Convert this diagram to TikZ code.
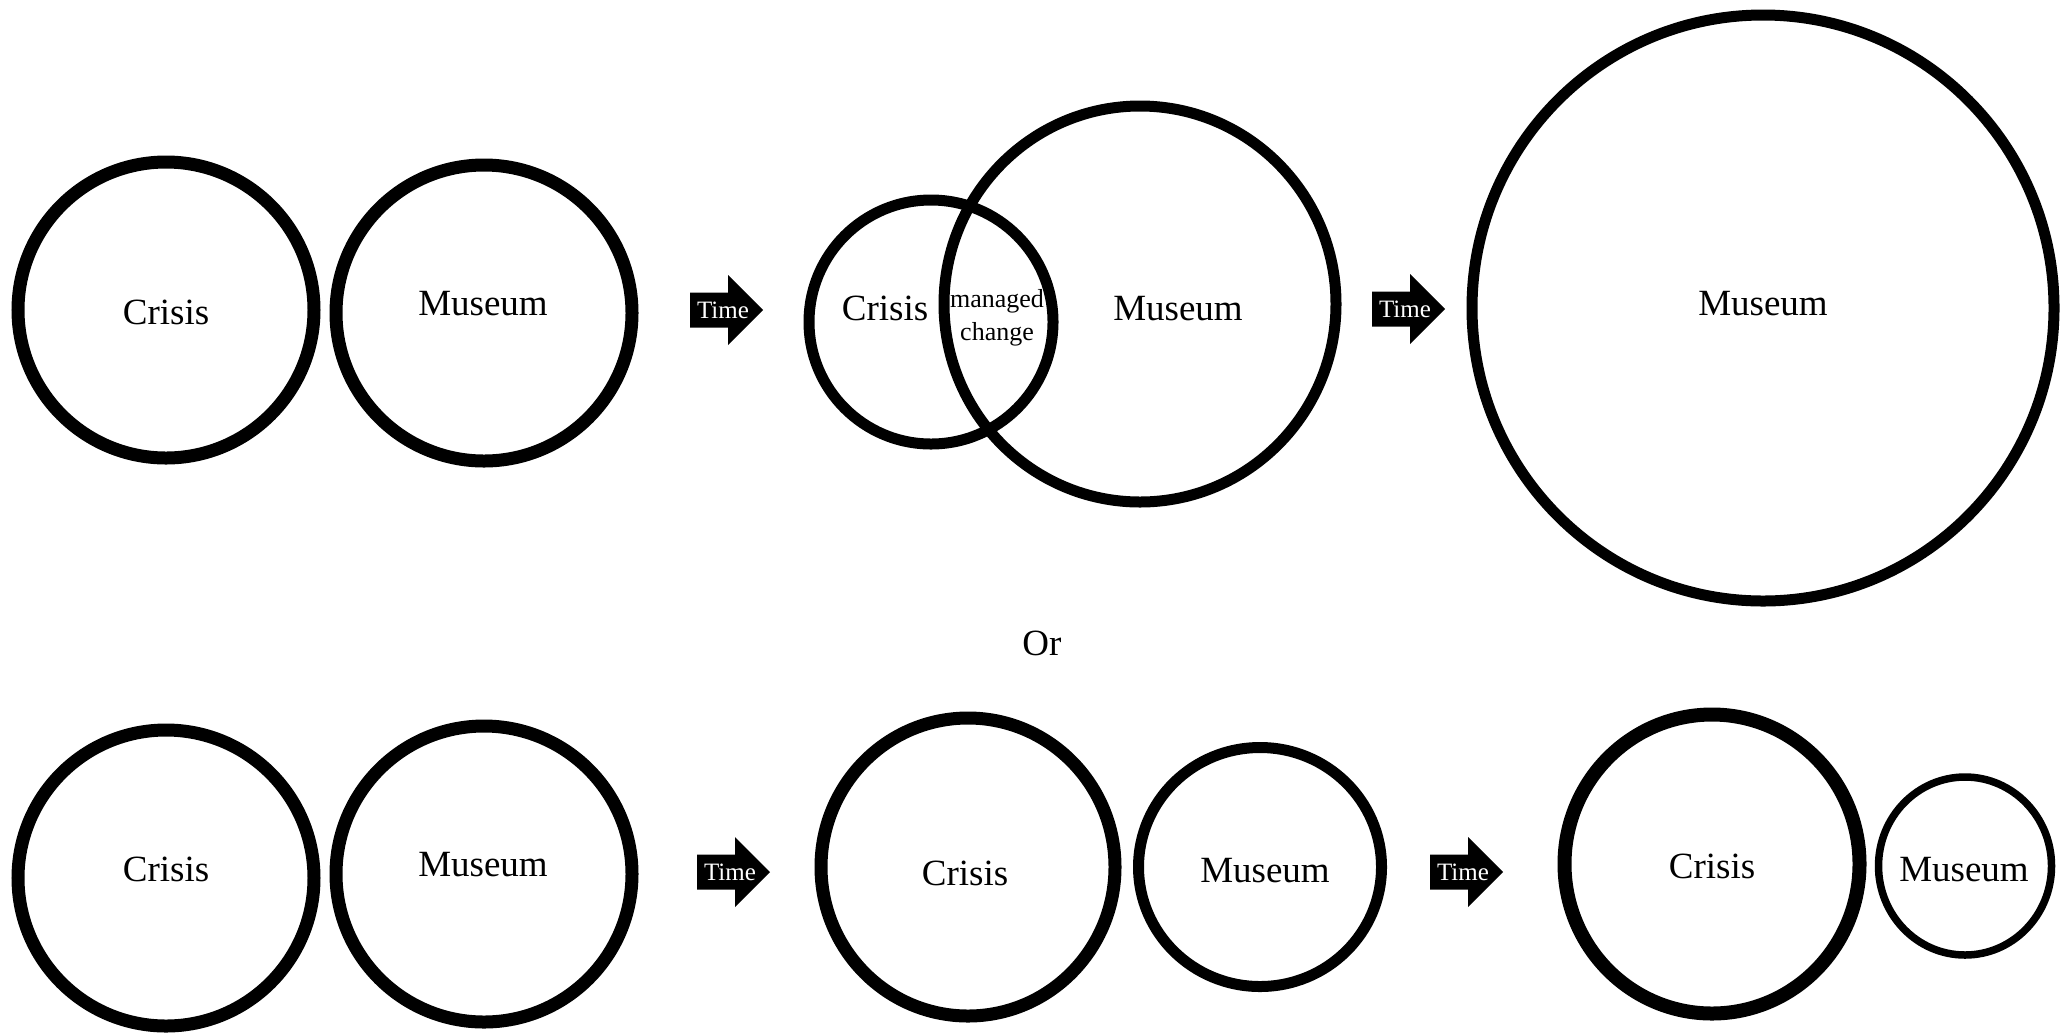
\documentclass[tikz,border=0pt]{standalone}
\usepackage{fontspec}
\setmainfont{Liberation Serif}
\usetikzlibrary{shapes.geometric,calc}

% Black block arrow with a white "Time" label; #1 name, #2 left x, #3 centre y
\newcommand{\timearrow}[3]{%
  \coordinate (#1) at (#2,#3);
  \fill[black] (#1) ++(0,-17.5) -- ++(38,0) -- ++(0,-17.5) -- ++(35,35)
    -- ++(-35,35) -- ++(0,-17.5) -- ++(-38,0) -- cycle;
  \node[timelbl] (#1-text) at ($(#1)+(33,0)$) {Time};
}

\begin{document}
\begin{tikzpicture}[x=0.5pt,y=-0.5pt,
  ring/.style={draw=black, ellipse, inner sep=0pt, outer sep=0pt},
  heavy/.style={ring, line width=6.5pt},
  medium/.style={ring, line width=5.5pt},
  lbl/.style={inner sep=0pt, font=\fontsize{18.5}{22}\selectfont},
  smalllbl/.style={inner sep=0pt, font=\fontsize{13}{16}\selectfont},
  timelbl/.style={inner sep=0pt, text=white, font=\fontsize{12.5}{15}\selectfont},
]
\fill[white] (0,0) rectangle (2070,1035);
\path[use as bounding box] (0,0) rectangle (2070,1035);

% ---- upper sequence ----
\node[heavy, minimum width=148pt, minimum height=148pt] (cA) at (166,310) {};
\node[heavy, minimum width=148pt, minimum height=148pt] (mA) at (484,313) {};
\node[lbl] (cAt) at (166,312) {Crisis};
\node[lbl] (mAt) at (483,304) {Museum};

\timearrow{t1}{690}{310}

\node[medium, minimum width=122pt, minimum height=122pt] (cB) at (931,322) {};
\node[medium, minimum width=196pt, minimum height=198pt] (mB) at (1140,304) {};
\node[lbl] (cBt) at (885,308) {Crisis};
\node[smalllbl] (mg1) at (997,301.5) {managed};
\node[smalllbl] (mg2) at (997,334.5) {change};
\node[lbl] (mBt) at (1178,309) {Museum};

\timearrow{t2}{1372}{309}

\node[medium, minimum width=291pt, minimum height=293pt] (mC) at (1763,308) {};
\node[lbl] (mCt) at (1763,304) {Museum};

% ---- alternative ----
\node[lbl] (or) at (1042,643) {Or};

% ---- lower sequence ----
\node[heavy, minimum width=148pt, minimum height=148pt] (cD) at (166,878) {};
\node[heavy, minimum width=148pt, minimum height=148pt] (mD) at (484,874) {};
\node[lbl] (cDt) at (166,869) {Crisis};
\node[lbl] (mDt) at (483,865) {Museum};

\timearrow{t3}{697}{872}

\node[heavy, minimum width=147pt, minimum height=149pt] (cE) at (968,867) {};
\node[medium, minimum width=121.5pt, minimum height=119.5pt] (mE) at (1260,867) {};
\node[lbl] (cEt) at (965,873) {Crisis};
\node[lbl] (mEt) at (1265,871) {Museum};

\timearrow{t4}{1430}{872}

\node[ring, line width=7pt, minimum width=147.5pt, minimum height=149.5pt] (cF) at (1712,864) {};
\node[ring, line width=3.75pt, minimum width=86.5pt, minimum height=89pt] (mF) at (1965,866) {};
\node[lbl] (cFt) at (1712,866) {Crisis};
\node[lbl] (mFt) at (1964,870) {Museum};
\end{tikzpicture}
\end{document}
